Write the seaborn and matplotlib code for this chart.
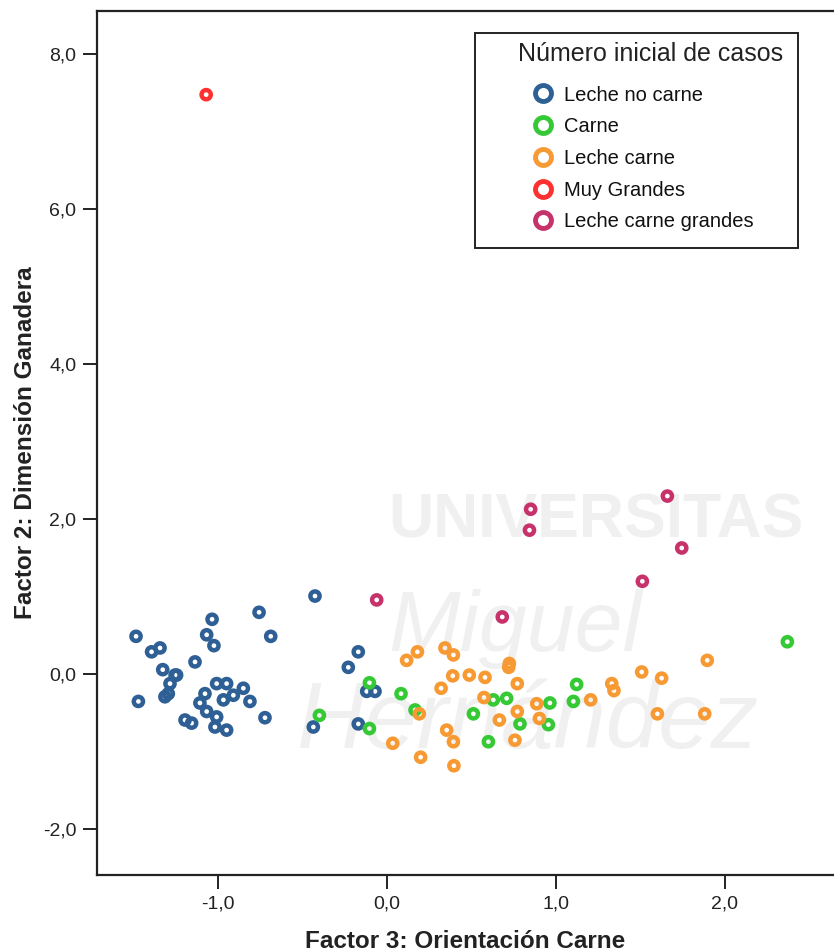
import matplotlib
matplotlib.use("Agg")
import matplotlib.pyplot as plt
from matplotlib.lines import Line2D
from matplotlib.patches import Rectangle
import matplotlib.ticker as mticker
import seaborn as sns
import pandas as pd

# ---- data ----
categories = ["Leche no carne", "Carne", "Leche carne", "Muy Grandes", "Leche carne grandes"]
colors = ["#2e5f95", "#36c936", "#f89a33", "#ff3030", "#c8326b"]
legend_title = "Número inicial de casos"

leche_no_carne_x = [-0.426, -0.757, -1.035, -0.688, -1.485, -1.067, -1.024, -1.393, -1.343, -1.136,
                    -1.327, -1.254, -1.284, -1.294, -1.471, -1.008, -0.949, -1.077, -0.850, -0.909,
                    -0.968, -0.811, -1.107, -1.067, -1.008, -1.195, -1.156, -1.018, -0.949, -0.722,
                    -0.170, -0.229, -0.120, -0.071, -0.436, -0.170, -1.245, -1.314]
leche_no_carne_y = [1.01, 0.80, 0.71, 0.49, 0.49, 0.51, 0.37, 0.29, 0.34, 0.16,
                    0.06, -0.01, -0.12, -0.25, -0.35, -0.12, -0.12, -0.25, -0.18, -0.27,
                    -0.33, -0.35, -0.37, -0.48, -0.55, -0.59, -0.63, -0.68, -0.72, -0.56,
                    0.29, 0.09, -0.22, -0.22, -0.68, -0.64, -0.01, -0.29]

carne_x = [-0.104, -0.40, 0.083, -0.104, 0.166, 0.511, 0.629, 0.708, 0.60, 0.787, 0.964, 0.955, 1.122, 1.103, 2.369]
carne_y = [-0.11, -0.53, -0.25, -0.70, -0.46, -0.51, -0.33, -0.31, -0.87, -0.64, -0.37, -0.65, -0.13, -0.35, 0.42]

leche_carne_x = [0.116, 0.18, 0.343, 0.393, 0.724, 0.72, 0.32, 0.389, 0.487, 0.58, 0.771, 0.574, 0.191,
                 0.353, 0.393, 0.034, 0.199, 0.396, 0.665, 0.771, 0.886, 0.902, 0.757, 1.205, 1.33,
                 1.343, 1.895, 1.507, 1.625, 1.60, 1.88]
leche_carne_y = [0.18, 0.29, 0.34, 0.25, 0.14, 0.09, -0.18, -0.02, -0.01, -0.04, -0.12, -0.30, -0.51,
                 -0.72, -0.87, -0.89, -1.07, -1.18, -0.59, -0.48, -0.38, -0.57, -0.85, -0.33, -0.12,
                 -0.21, 0.18, 0.03, -0.05, -0.51, -0.51]

muy_grandes_x = [-1.07]
muy_grandes_y = [7.48]

leche_carne_grandes_x = [-0.061, 0.682, 0.85, 0.843, 1.659, 1.744, 1.511]
leche_carne_grandes_y = [0.96, 0.74, 2.13, 1.86, 2.30, 1.63, 1.20]

x_ticks = [-1.0, 0.0, 1.0, 2.0]
y_ticks = [-2.0, 0.0, 2.0, 4.0, 6.0, 8.0]

# ---- table ----
xs = [leche_no_carne_x, carne_x, leche_carne_x, muy_grandes_x, leche_carne_grandes_x]
ys = [leche_no_carne_y, carne_y, leche_carne_y, muy_grandes_y, leche_carne_grandes_y]
rows = []
for cat, xx, yy in zip(categories, xs, ys):
    for a, b in zip(xx, yy):
        rows.append({"f3": a, "f2": b, "grupo": cat})
df = pd.DataFrame(rows)

sns.set_theme(style="white")
plt.rcParams["font.family"] = ["Liberation Sans", "DejaVu Sans"]

fig = plt.figure(figsize=(8.34, 9.51), dpi=100)
ax = fig.add_axes([0.1163, 0.0799, 0.8837, 0.9085])

# faint watermark (background decoration of the original)
wm = "#f0f0f0"
ax.text(0.395, 0.410, "UNIVERSITAS", transform=ax.transAxes, fontsize=45, fontweight="bold",
        color=wm, ha="left", va="center", zorder=0)
ax.text(0.395, 0.285, "Miguel", transform=ax.transAxes, fontsize=62, fontstyle="italic",
        color=wm, ha="left", va="center", zorder=0)
ax.text(0.27, 0.175, "Hernández", transform=ax.transAxes, fontsize=68, fontstyle="italic",
        color=wm, ha="left", va="center", zorder=0)

sns.scatterplot(data=df, x="f3", y="f2", hue="grupo", hue_order=categories,
                palette=colors, s=44, marker="o", linewidth=3.2, legend=False, ax=ax, zorder=3)
coll = ax.collections[0]
fc = coll.get_facecolors()
coll.set_edgecolors(fc)
coll.set_facecolors("none")

ax.set_xlim(-1.716, 2.645)
ax.set_ylim(-2.59, 8.559)
ax.set_xticks(x_ticks)
ax.set_yticks(y_ticks)
fmt = mticker.FuncFormatter(lambda v, p: f"{v:.1f}".replace(".", ","))
ax.xaxis.set_major_formatter(fmt)
ax.yaxis.set_major_formatter(fmt)
ax.tick_params(axis="both", which="major", direction="out", length=10, width=1.4,
               color="#222222", labelsize=14, labelcolor="#222222", pad=5,
               bottom=True, left=True)

for side in ["left", "bottom", "top"]:
    ax.spines[side].set_visible(True)
    ax.spines[side].set_color("#222222")
    ax.spines[side].set_linewidth(1.6)
ax.spines["right"].set_visible(False)

lab_font = dict(fontsize=17.5, fontweight="bold", color="#222222")
ax.set_xlabel("Factor 3: Orientación Carne", labelpad=12, **lab_font)
ax.set_ylabel("Factor 2: Dimensión Ganadera", labelpad=4, **lab_font)

# legend: frame, title and entries
frame = Rectangle((0.5129, 0.7257), 0.4383, 0.2488, transform=ax.transAxes,
                  facecolor="white", edgecolor="#222222", linewidth=1.4, zorder=4.5)
ax.add_patch(frame)
ax.text(0.5712, 0.9502, legend_title, transform=ax.transAxes, fontsize=18,
        color="#222222", ha="left", va="center", zorder=6)
handles = [Line2D([], [], marker="o", linestyle="", markerfacecolor="none",
                  markeredgecolor=c, markeredgewidth=3.5, markersize=11.5) for c in colors]
leg = ax.legend(handles, categories, loc="upper left", bbox_to_anchor=(0.5862, 0.9138),
                frameon=False, prop={"size": 14.5}, handletextpad=0.35,
                labelspacing=0.63, borderpad=0, handlelength=1.4, borderaxespad=0)
leg.set_zorder(6)
for t in leg.get_texts():
    t.set_color("#111111")

fig.savefig("out.png", dpi=100)
